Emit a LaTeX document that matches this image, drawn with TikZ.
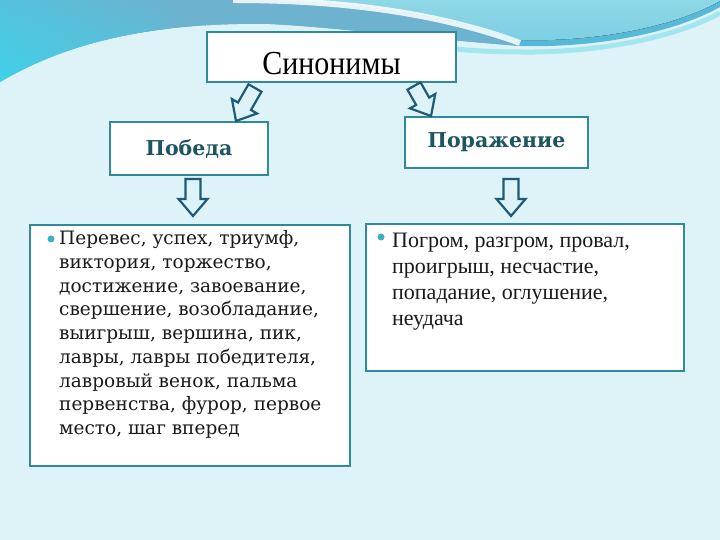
\documentclass[tikz,border=0pt]{standalone}
\usepackage{fontspec}
\setmainfont{Liberation Serif}
\newfontfamily\listfont{DejaVu Serif}
\usetikzlibrary{calc}

\definecolor{fondo}{HTML}{DDF3F8}
\definecolor{ramkacol}{HTML}{2F8A9B}
\definecolor{zagcol}{HTML}{1D5563}
\definecolor{strelkacol}{HTML}{1F5A78}
\definecolor{punktcol}{HTML}{3AB2C4}
\definecolor{tekstcol}{HTML}{1A1A1A}
\definecolor{volnacol}{HTML}{56B9D7}
\definecolor{pravcolA}{HTML}{8ED7E6}
\definecolor{pravcolB}{HTML}{7CCFE3}
\definecolor{levcolA}{HTML}{6DB3CF}
\definecolor{levcolB}{HTML}{3ED2EA}
\definecolor{svetlocol}{HTML}{A4E5EF}

% полая стрелка от #1 (хвост) к #2 (остриё)
\newcommand{\strelka}[2]{%
    \coordinate (sheika) at ($(#2)!17pt!(#1)$);
    \draw[strelkastil] ($(#1)!7.5pt!90:(#2)$) -- ($(sheika)!7.5pt!90:(#2)$) -- ($(sheika)!14.5pt!90:(#2)$)
        -- (#2) -- ($(sheika)!14.5pt!-90:(#2)$) -- ($(sheika)!7.5pt!-90:(#2)$) -- ($(#1)!7.5pt!-90:(#2)$) -- cycle;
}

\begin{document}
\begin{tikzpicture}[x=1pt, y=1pt,
        ramka/.style={draw=ramkacol, line width=2pt, fill=white, inner sep=0pt},
        zagolovok/.style={ramka, font=\listfont\bfseries\fontsize{20.5}{24}\selectfont, text=zagcol},
        strelkastil/.style={draw=strelkacol, line width=2.2pt, line join=miter},
        punkt/.style={circle, fill=punktcol, inner sep=0pt, minimum size=7pt},
        levtekst/.style={font=\listfont\fontsize{18.5}{22}\selectfont, text=tekstcol, inner sep=0pt, anchor=base west},
        pravtekst/.style={font=\fontsize{22}{24}\selectfont, text=tekstcol, inner sep=0pt, anchor=base west}]

    \useasboundingbox (0,0) rectangle (720,540);

    % ----------------------------------------------------
    % 1. Фон и волна сверху
    % ----------------------------------------------------
    \fill[fondo] (0,0) rectangle (720,540);
    \draw[svetlocol, line width=5pt] (400,497) .. controls (450,491) and (480,488) .. (520,488)
                                     .. controls (590,487) and (670,500) .. (720,527);
    \fill[volnacol] (0,540) -- (0,458) .. controls (70,500) and (160,518) .. (270,516)
                    .. controls (330,513) and (420,502) .. (520,494)
                    .. controls (590,492) and (670,505) .. (720,533) -- (720,540) -- cycle;
    \fill[top color=pravcolA, bottom color=pravcolB] (233,540) .. controls (330,540) and (430,530) .. (520,500)
                    .. controls (590,498) and (670,511) .. (720,539) -- (720,540) -- cycle;
    \fill[levcolA] (0,540) -- (233,540)
                    .. controls (330,540) and (430,530) .. (520,494)
                    .. controls (420,502) and (330,513) .. (270,516)
                    .. controls (160,518) and (70,500) .. (0,458) -- cycle;
    % бирюзовый край слева
    \begin{scope}
        \clip (0,540) -- (0,458) .. controls (70,500) and (160,518) .. (270,516) -- (270,540) -- cycle;
        \shade[left color=levcolB, right color=levcolA] (0,455) rectangle (170,540);
        \shade[top color=levcolA, bottom color=levcolB, opacity=0.5] (0,455) rectangle (170,540);
    \end{scope}
    % белый блик
    \draw[white, line width=6pt, opacity=0.85] (233,540) .. controls (330,540) and (430,530) .. (520,497);

    % ----------------------------------------------------
    % 2. Рамки
    % ----------------------------------------------------
    \node[ramka, minimum width=249pt, minimum height=50pt] (sinonimy) at (331.5,483) {};
    \node[font=\fontsize{30}{34}\selectfont, inner sep=0pt] (sinonimytekst) at ($(sinonimy.center)+(0,-7)$)
        {\scalebox{1}[1.12]{Синонимы}};

    \node[zagolovok, minimum width=158pt, minimum height=53pt] (pobeda) at (189,391.5) {Победа};
    \node[zagolovok, minimum width=183pt, minimum height=51pt] (porazhenie) at (496.5,397.5) {Поражение};

    \node[ramka, minimum width=320pt, minimum height=241pt] (listpob) at (190,194.5) {};
    \node[ramka, minimum width=318pt, minimum height=147pt] (listpor) at (525,242.5) {};

    % ----------------------------------------------------
    % 3. Стрелки
    % ----------------------------------------------------
    \coordinate (hvostA) at ($(sinonimy.south west)+(49,-5)$);
    \coordinate (ostrieA) at ($(pobeda.north east)+(-33,0)$);
    \strelka{hvostA}{ostrieA}

    \coordinate (hvostB) at ($(sinonimy.south east)+(-43,-3)$);
    \coordinate (ostrieB) at ($(porazhenie.north west)+(27,0)$);
    \strelka{hvostB}{ostrieB}

    \coordinate (hvostC) at ($(pobeda.south)+(4,-3)$);
    \coordinate (ostrieC) at ($(listpob.north)+(3,8)$);
    \strelka{hvostC}{ostrieC}

    \coordinate (hvostD) at ($(porazhenie.south)+(14.5,-10)$);
    \coordinate (ostrieD) at ($(listpor.north)+(-14,7)$);
    \strelka{hvostD}{ostrieD}

    % ----------------------------------------------------
    % 4. Списки синонимов
    % ----------------------------------------------------
    \node[punkt] (punktpob) at ($(listpob.north west)+(22,-15)$) {};
    \foreach \txt [count=\i from 0] in {{Перевес, успех, триумф,}, {виктория, торжество,},
            {достижение, завоевание,}, {свершение, возобладание,}, {выигрыш, вершина, пик,},
            {лавры, лавры победителя,}, {лавровый венок, пальма}, {первенства, фурор, первое},
            {место, шаг вперед}}
        \node[levtekst] (pobline\i) at ($(listpob.north west)+(30,-20.7-23.75*\i)$) {\txt};

    \node[punkt] (punktpor) at ($(listpor.north west)+(16,-14)$) {};
    \foreach \txt [count=\i from 0] in {{Погром, разгром, провал,}, {проигрыш, несчастие,},
            {попадание, оглушение,}, {неудача}}
        \node[pravtekst] (porline\i) at ($(listpor.north west)+(27,-24.3-26*\i)$) {\txt};

\end{tikzpicture}
\end{document}
